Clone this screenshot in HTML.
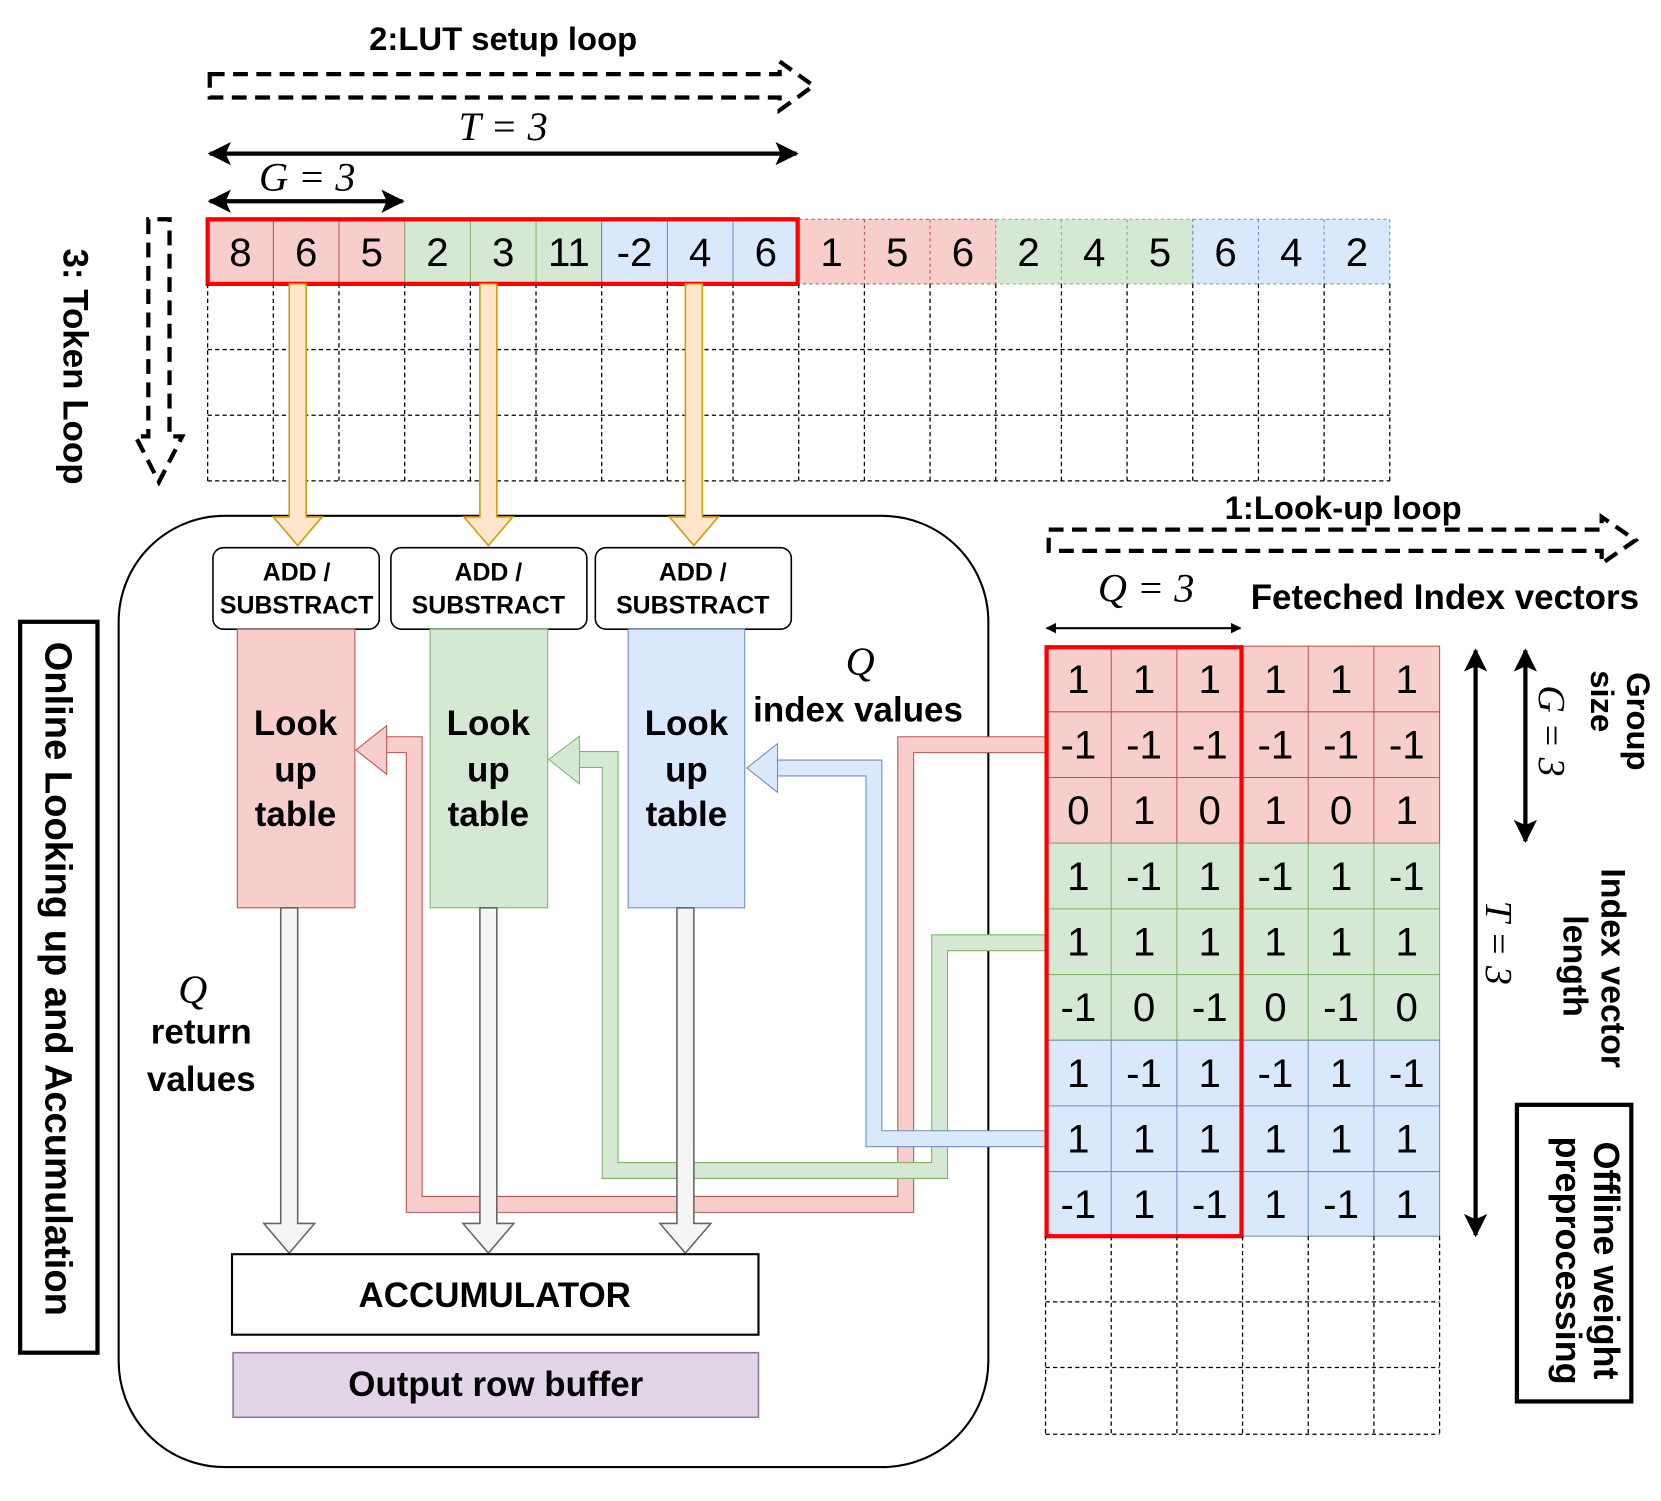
<!DOCTYPE html>
<html><head><meta charset="utf-8"><style>
html,body{margin:0;padding:0;background:#fff}
svg{display:block}
text{font-family:"Liberation Sans",sans-serif}
.b{font-weight:bold}
.m{font-family:"Liberation Serif",serif;font-style:italic}
</style></head><body>
<svg width="1661" height="1501" viewBox="0 0 1568 1417" xmlns="http://www.w3.org/2000/svg">
<defs>
<marker id="ah" markerWidth="10" markerHeight="10" refX="9" refY="5" orient="auto-start-reverse" markerUnits="userSpaceOnUse"><path d="M0,0 L10,5 L0,10 z" fill="#000"/></marker>
<marker id="ahb" markerWidth="22" markerHeight="22" refX="20" refY="11" orient="auto-start-reverse" markerUnits="userSpaceOnUse"><path d="M0,0 L22,11 L0,22 L5,11 z" fill="#000"/></marker>
</defs>

<text x="475" y="47" class="b" font-size="31" text-anchor="middle">2:LUT setup loop</text>
<path d="M198,70 H736 V58 L768,81 L736,104 V92 H198 Z" fill="none" stroke="#000" stroke-width="4" stroke-dasharray="14,8"/>
<text x="475" y="132" class="m" font-size="38" text-anchor="middle">T = 3</text>
<line x1="198" y1="145" x2="752" y2="145" stroke="#000" stroke-width="4" marker-start="url(#ahb)" marker-end="url(#ahb)"/>
<text x="290" y="180" class="m" font-size="38" text-anchor="middle">G = 3</text>
<line x1="198" y1="190" x2="380" y2="190" stroke="#000" stroke-width="4" marker-start="url(#ahb)" marker-end="url(#ahb)"/>

<path d="M140,207 V412 H128 L150,455 L172,412 H160 V207 Z" fill="none" stroke="#000" stroke-width="4" stroke-dasharray="14,8"/>
<text transform="translate(60,346) rotate(90)" class="b" font-size="33" text-anchor="middle">3: Token Loop</text>

<g font-size="38" text-anchor="middle">
<g stroke-width="1">
<rect x="196" y="207" width="186" height="61" fill="#f8cecc" stroke="#b85450"/>
<rect x="382" y="207" width="186" height="61" fill="#d5e8d4" stroke="#82b366"/>
<rect x="568" y="207" width="186" height="61" fill="#dae8fc" stroke="#6c8ebf"/>
<rect x="754" y="207" width="186" height="61" fill="#f8cecc" stroke="#b85450" stroke-dasharray="3,3"/>
<rect x="940" y="207" width="186" height="61" fill="#d5e8d4" stroke="#82b366" stroke-dasharray="3,3"/>
<rect x="1126" y="207" width="186" height="61" fill="#dae8fc" stroke="#6c8ebf" stroke-dasharray="3,3"/>
</g>
<g stroke="#b85450" stroke-width="1">
<line x1="258" y1="207" x2="258" y2="268"/><line x1="320" y1="207" x2="320" y2="268"/>
<line x1="816" y1="207" x2="816" y2="268" stroke-dasharray="3,3"/><line x1="878" y1="207" x2="878" y2="268" stroke-dasharray="3,3"/>
</g>
<g stroke="#82b366" stroke-width="1">
<line x1="444" y1="207" x2="444" y2="268"/><line x1="506" y1="207" x2="506" y2="268"/>
<line x1="1002" y1="207" x2="1002" y2="268" stroke-dasharray="3,3"/><line x1="1064" y1="207" x2="1064" y2="268" stroke-dasharray="3,3"/>
</g>
<g stroke="#6c8ebf" stroke-width="1">
<line x1="630" y1="207" x2="630" y2="268"/><line x1="692" y1="207" x2="692" y2="268"/>
<line x1="1188" y1="207" x2="1188" y2="268" stroke-dasharray="3,3"/><line x1="1250" y1="207" x2="1250" y2="268" stroke-dasharray="3,3"/>
</g>
<text x="227" y="251">8</text><text x="289" y="251">6</text><text x="351" y="251">5</text>
<text x="413" y="251">2</text><text x="475" y="251">3</text><text x="537" y="251">11</text>
<text x="599" y="251">-2</text><text x="661" y="251">4</text><text x="723" y="251">6</text>
<text x="785" y="251">1</text><text x="847" y="251">5</text><text x="909" y="251">6</text>
<text x="971" y="251">2</text><text x="1033" y="251">4</text><text x="1095" y="251">5</text>
<text x="1157" y="251">6</text><text x="1219" y="251">4</text><text x="1281" y="251">2</text>
</g>
<rect x="196" y="207" width="557" height="61" fill="none" stroke="#f00" stroke-width="4"/>
<g stroke="#000" stroke-width="1.2" stroke-dasharray="4,3" fill="none">
<path d="M196,268 V454 M258,268 V454 M320,268 V454 M382,268 V454 M444,268 V454 M506,268 V454 M568,268 V454 M630,268 V454 M692,268 V454 M754,268 V454 M816,268 V454 M878,268 V454 M940,268 V454 M1002,268 V454 M1064,268 V454 M1126,268 V454 M1188,268 V454 M1250,268 V454 M1312,268 V454"/>
<path d="M196,330 H1312 M196,392 H1312 M196,454 H1312"/>
</g>

<rect x="112" y="487" width="821" height="898" rx="100" fill="none" stroke="#000" stroke-width="2"/>

<g fill="none" stroke-linejoin="miter">
<path d="M987,703 H855 V1137 H391 V703 H362" stroke="#b85450" stroke-width="16"/>
<path d="M987,703 H855 V1137 H391 V703 H362" stroke="#f8cecc" stroke-width="14"/>
<path d="M987,890 H887 V1105 H576 V717 H545" stroke="#82b366" stroke-width="16"/>
<path d="M987,890 H887 V1105 H576 V717 H545" stroke="#d5e8d4" stroke-width="14"/>
<path d="M987,1075 H825 V725 H732" stroke="#6c8ebf" stroke-width="16"/>
<path d="M987,1075 H825 V725 H732" stroke="#dae8fc" stroke-width="14"/>
</g>
<path d="M365,685 L336,708 L365,731 Z" fill="#f8cecc" stroke="#b85450"/>
<path d="M547,695 L518,717 L547,740 Z" fill="#d5e8d4" stroke="#82b366"/>
<path d="M734,702 L705,725 L734,748 Z" fill="#dae8fc" stroke="#6c8ebf"/>

<g fill="#ffe6cc" stroke="#d79b00" stroke-width="1.5">
<path d="M273,268 H289 V488 H304 L281,515 L258,488 H273 Z"/>
<path d="M453,268 H469 V488 H484 L461,515 L438,488 H453 Z"/>
<path d="M647,268 H663 V488 H678 L655,515 L632,488 H647 Z"/>
</g>

<g fill="#fff" stroke="#000" stroke-width="1.5">
<rect x="201" y="517" width="157" height="77" rx="10"/>
<rect x="369" y="517" width="185" height="77" rx="10"/>
<rect x="562" y="517" width="185" height="77" rx="10"/>
</g>
<g class="b" font-size="23.5" text-anchor="middle">
<text x="280" y="548">ADD /</text><text x="280" y="579">SUBSTRACT</text>
<text x="461" y="548">ADD /</text><text x="461" y="579">SUBSTRACT</text>
<text x="654" y="548">ADD /</text><text x="654" y="579">SUBSTRACT</text>
</g>

<rect x="224" y="594" width="111" height="263" fill="#f8cecc" stroke="#b85450"/>
<rect x="406" y="594" width="111" height="263" fill="#d5e8d4" stroke="#82b366"/>
<rect x="593" y="594" width="110" height="263" fill="#dae8fc" stroke="#6c8ebf"/>
<g class="b" font-size="33" text-anchor="middle">
<text x="279" y="694">Look</text><text x="279" y="738">up</text><text x="279" y="780">table</text>
<text x="461" y="694">Look</text><text x="461" y="738">up</text><text x="461" y="780">table</text>
<text x="648" y="694">Look</text><text x="648" y="738">up</text><text x="648" y="780">table</text>
</g>

<g fill="#f5f5f5" stroke="#666" stroke-width="1.5">
<path d="M265,857 H281 V1155 H297 L273,1183 L249,1155 H265 Z"/>
<path d="M453,857 H469 V1155 H485 L461,1183 L437,1155 H453 Z"/>
<path d="M639,857 H655 V1155 H671 L647,1183 L623,1155 H639 Z"/>
</g>

<rect x="219" y="1184" width="497" height="76" fill="#fff" stroke="#000" stroke-width="2"/>
<text x="467" y="1234" class="b" font-size="33" text-anchor="middle">ACCUMULATOR</text>
<rect x="220" y="1277" width="496" height="61" fill="#e1d5e7" stroke="#9673a6" stroke-width="1.5"/>
<text x="468" y="1318" class="b" font-size="33" text-anchor="middle">Output row buffer</text>

<text x="182" y="947" class="m" font-size="38" text-anchor="middle">Q</text>
<text x="190" y="985" class="b" font-size="33" text-anchor="middle">return</text>
<text x="190" y="1030" class="b" font-size="33" text-anchor="middle">values</text>
<text x="812" y="637" class="m" font-size="38" text-anchor="middle">Q</text>
<text x="810" y="681" class="b" font-size="33" text-anchor="middle">index values</text>

<rect x="19" y="587" width="73" height="690" fill="#fff" stroke="#000" stroke-width="4"/>
<text transform="translate(43,924) rotate(90)" class="b" font-size="36" text-anchor="middle">Online Looking up and Accumulation</text>

<text x="1268" y="490" class="b" font-size="31" text-anchor="middle">1:Look-up loop</text>
<path d="M990,500 H1512 V488 L1544,510 L1512,532 V520 H990 Z" fill="none" stroke="#000" stroke-width="4" stroke-dasharray="14,8"/>
<text x="1082" y="568" class="m" font-size="38" text-anchor="middle">Q = 3</text>
<text x="1364" y="575" class="b" font-size="33" text-anchor="middle">Feteched Index vectors</text>
<line x1="988" y1="593" x2="1171" y2="593" stroke="#000" stroke-width="2" marker-start="url(#ah)" marker-end="url(#ah)"/>

<g stroke-width="1">
<rect x="987" y="610" width="372" height="186" fill="#f8cecc" stroke="#b85450"/>
<rect x="987" y="796" width="372" height="186" fill="#d5e8d4" stroke="#82b366"/>
<rect x="987" y="982" width="372" height="185" fill="#dae8fc" stroke="#6c8ebf"/>
<path d="M1049,610 V796 M1111,610 V796 M1173,610 V796 M1235,610 V796 M1297,610 V796 M987,672 H1359 M987,734 H1359" stroke="#b85450"/>
<path d="M1049,796 V982 M1111,796 V982 M1173,796 V982 M1235,796 V982 M1297,796 V982 M987,858 H1359 M987,920 H1359" stroke="#82b366"/>
<path d="M1049,982 V1167 M1111,982 V1167 M1173,982 V1167 M1235,982 V1167 M1297,982 V1167 M987,1044 H1359 M987,1106 H1359" stroke="#6c8ebf"/>
</g>
<g font-size="38" text-anchor="middle">
<g><text x="1018" y="654">1</text><text x="1080" y="654">1</text><text x="1142" y="654">1</text><text x="1204" y="654">1</text><text x="1266" y="654">1</text><text x="1328" y="654">1</text></g>
<g><text x="1018" y="716">-1</text><text x="1080" y="716">-1</text><text x="1142" y="716">-1</text><text x="1204" y="716">-1</text><text x="1266" y="716">-1</text><text x="1328" y="716">-1</text></g>
<g><text x="1018" y="778">0</text><text x="1080" y="778">1</text><text x="1142" y="778">0</text><text x="1204" y="778">1</text><text x="1266" y="778">0</text><text x="1328" y="778">1</text></g>
<g><text x="1018" y="840">1</text><text x="1080" y="840">-1</text><text x="1142" y="840">1</text><text x="1204" y="840">-1</text><text x="1266" y="840">1</text><text x="1328" y="840">-1</text></g>
<g><text x="1018" y="902">1</text><text x="1080" y="902">1</text><text x="1142" y="902">1</text><text x="1204" y="902">1</text><text x="1266" y="902">1</text><text x="1328" y="902">1</text></g>
<g><text x="1018" y="964">-1</text><text x="1080" y="964">0</text><text x="1142" y="964">-1</text><text x="1204" y="964">0</text><text x="1266" y="964">-1</text><text x="1328" y="964">0</text></g>
<g><text x="1018" y="1026">1</text><text x="1080" y="1026">-1</text><text x="1142" y="1026">1</text><text x="1204" y="1026">-1</text><text x="1266" y="1026">1</text><text x="1328" y="1026">-1</text></g>
<g><text x="1018" y="1088">1</text><text x="1080" y="1088">1</text><text x="1142" y="1088">1</text><text x="1204" y="1088">1</text><text x="1266" y="1088">1</text><text x="1328" y="1088">1</text></g>
<g><text x="1018" y="1150">-1</text><text x="1080" y="1150">1</text><text x="1142" y="1150">-1</text><text x="1204" y="1150">1</text><text x="1266" y="1150">-1</text><text x="1328" y="1150">1</text></g>
</g>
<rect x="988" y="611" width="184" height="556" fill="none" stroke="#f00" stroke-width="4"/>
<g stroke="#000" stroke-width="1.2" stroke-dasharray="4,3" fill="none">
<path d="M987,1167 V1354 M1049,1167 V1354 M1111,1167 V1354 M1173,1167 V1354 M1235,1167 V1354 M1297,1167 V1354 M1359,1167 V1354"/>
<path d="M987,1229 H1359 M987,1291 H1359 M987,1354 H1359"/>
</g>

<line x1="1393" y1="614" x2="1393" y2="1166" stroke="#000" stroke-width="4" marker-start="url(#ahb)" marker-end="url(#ahb)"/>
<line x1="1440" y1="614" x2="1440" y2="794" stroke="#000" stroke-width="4" marker-start="url(#ahb)" marker-end="url(#ahb)"/>
<text transform="translate(1453,690) rotate(90)" class="m" font-size="36" text-anchor="middle">G = 3</text>
<text transform="translate(1536,681) rotate(90)" class="b" font-size="31" text-anchor="middle">Group</text>
<text transform="translate(1502,662) rotate(90)" class="b" font-size="31" text-anchor="middle">size</text>
<text transform="translate(1403,890) rotate(90)" class="m" font-size="36" text-anchor="middle">T = 3</text>
<text transform="translate(1512,914) rotate(90)" class="b" font-size="32" text-anchor="middle">Index vector</text>
<text transform="translate(1476,912) rotate(90)" class="b" font-size="32" text-anchor="middle">length</text>

<rect x="1432" y="1043" width="108" height="280" fill="#fff" stroke="#000" stroke-width="4"/>
<text transform="translate(1505,1190) rotate(90)" class="b" font-size="34" text-anchor="middle">Offline weight</text>
<text transform="translate(1469,1190) rotate(90)" class="b" font-size="34" text-anchor="middle">preprocessing</text>
</svg>
</body></html>
